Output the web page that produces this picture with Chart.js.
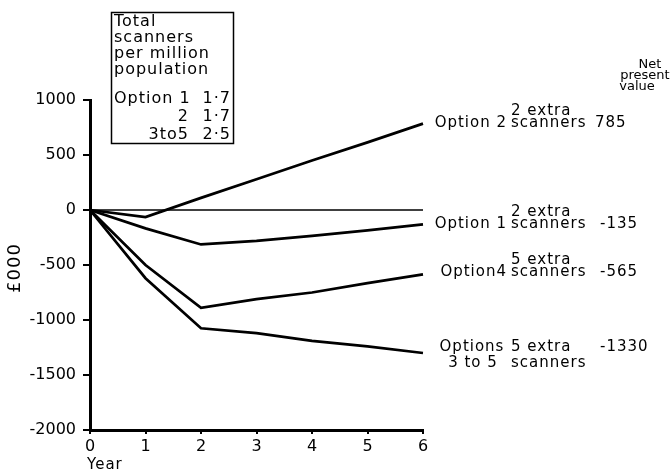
<!DOCTYPE html>
<html>
<head>
<meta charset="utf-8">
<script src="https://cdn.jsdelivr.net/npm/chart.js@4/dist/chart.umd.min.js"></script>
<style>
  html, body { margin: 0; padding: 0; background: #fff; }
  #wrap { width: 670px; height: 474px; }
</style>
</head>
<body>
<div id="wrap"><canvas id="npvChart" width="670" height="474"></canvas></div>
<script>
// data (£000)
let years = ['0', '1', '2', '3', '4', '5', '6'];
let option2 = [0, -65, 110, 280, 450, 615, 785];
let option1 = [0, -167, -313, -280, -235, -185, -130];
let option4 = [0, -500, -890, -810, -750, -665, -585];
let options3to5 = [0, -620, -1075, -1120, -1190, -1240, -1300];
let zeroLine = [0, 0, 0, 0, 0, 0, 0];
let yTicks = [1000, 500, 0, -500, -1000, -1500, -2000];

// box top left
let boxHeading = ['Total', 'scanners', 'per million', 'population'];
let boxRows = [['Option 1', '1·7'], ['2', '1·7'], ['3to5', '2·5']];

// labels at the end of each line
let endLabels = [
  { name: 'Option 2', extra: '2 extra', npv: '785' },
  { name: 'Option 1', extra: '2 extra', npv: '-135' },
  { name: 'Option4', extra: '5 extra', npv: '-565' },
  { name: 'Options', extra: '5 extra', npv: '-1330', sub: '3 to 5' }
];

const FONT = '"DejaVu Sans", sans-serif';

function txt(ctx, s, x, y, align, size) {
  ctx.font = (size || 15) + 'px ' + FONT;
  ctx.textAlign = align || 'left';
  ctx.textBaseline = 'middle';
  ctx.fillText(s, x, y);
}

const annotations = {
  id: 'annotations',
  afterDraw(chart) {
    const ctx = chart.ctx;
    ctx.save();
    ctx.fillStyle = '#000';
    ctx.strokeStyle = '#000';
    ctx.letterSpacing = '1px';

    // legend-ish box
    ctx.lineWidth = 1.5;
    ctx.strokeRect(111.5, 12.5, 122, 131);
    let hy = [22, 38, 54, 70];
    boxHeading.forEach((s, i) => txt(ctx, s, 114, hy[i], 'left', 16));
    let ry = [99, 117, 135];
    boxRows.forEach((r, i) => {
      if (i === 0) txt(ctx, r[0], 114, ry[i], 'left', 16);
      else txt(ctx, r[0], 189, ry[i], 'right', 16);
      txt(ctx, r[1], 231, ry[i], 'right', 16);
    });

    // column heading
    ctx.letterSpacing = '0px';
    txt(ctx, 'Net', 650, 65, 'center', 13);
    txt(ctx, 'present', 645, 76, 'center', 13);
    txt(ctx, 'value', 637, 87, 'center', 13);
    ctx.letterSpacing = '1px';

    // end labels
    let rowY = [123, 224, 272, 347];
    endLabels.forEach((l, i) => {
      let y = rowY[i];
      if (l.sub) {
        txt(ctx, l.name, 472, y, 'center');
        txt(ctx, l.sub, 473, y + 16, 'center');
        txt(ctx, l.extra, 511, y, 'left');
        txt(ctx, 'scanners', 511, y + 16, 'left');
        txt(ctx, l.npv, 600, y, 'left');
      } else {
        txt(ctx, l.name, 507, y, 'right');
        txt(ctx, l.extra, 511, y - 12, 'left');
        txt(ctx, 'scanners', 511, y, 'left');
        txt(ctx, l.npv, i === 0 ? 595 : 600, y, 'left');
      }
    });

    // axis titles
    txt(ctx, 'Year', 87, 465, 'left');
    ctx.translate(15, 268);
    ctx.rotate(-Math.PI / 2);
    txt(ctx, '£000', 0, 0, 'center', 18);
    ctx.restore();
  }
};

function line(data, width) {
  return {
    data: data,
    borderColor: '#000',
    borderWidth: width,
    pointRadius: 0,
    tension: 0,
    fill: false
  };
}

const config = {
  type: 'line',
  data: {
    labels: years,
    datasets: [
      line(zeroLine, 1.5),
      line(option2, 2.7),
      line(option1, 2.7),
      line(option4, 2.7),
      line(options3to5, 2.7)
    ]
  },
  options: {
    responsive: false,
    animation: false,
    layout: { padding: { top: 100, right: 247, left: 0, bottom: 0 } },
    plugins: { legend: { display: false }, tooltip: { enabled: false } },
    scales: {
      x: {
        offset: false,
        grid: { drawOnChartArea: false, drawTicks: true, tickLength: 4, color: '#000', lineWidth: 2 },
        border: { display: true, color: '#000', width: 3 },
        ticks: { color: '#000', padding: 3, font: { family: FONT, size: 16 }, maxRotation: 0 },
        afterFit(scale) { scale.height = 44; }
      },
      y: {
        min: -2000,
        max: 1000,
        afterBuildTicks(scale) { scale.ticks = yTicks.map(v => ({ value: v })); },
        grid: { drawOnChartArea: false, drawTicks: true, tickLength: 7, color: '#000', lineWidth: 2 },
        border: { display: true, color: '#000', width: 3 },
        ticks: {
          color: '#000',
          padding: 7,
          font: { family: FONT, size: 16 },
          callback: v => String(v)
        },
        afterFit(scale) { scale.width = 90; }
      }
    }
  },
  plugins: [annotations]
};

var npvChart = new Chart(document.getElementById('npvChart'), config);
</script>
</body>
</html>
